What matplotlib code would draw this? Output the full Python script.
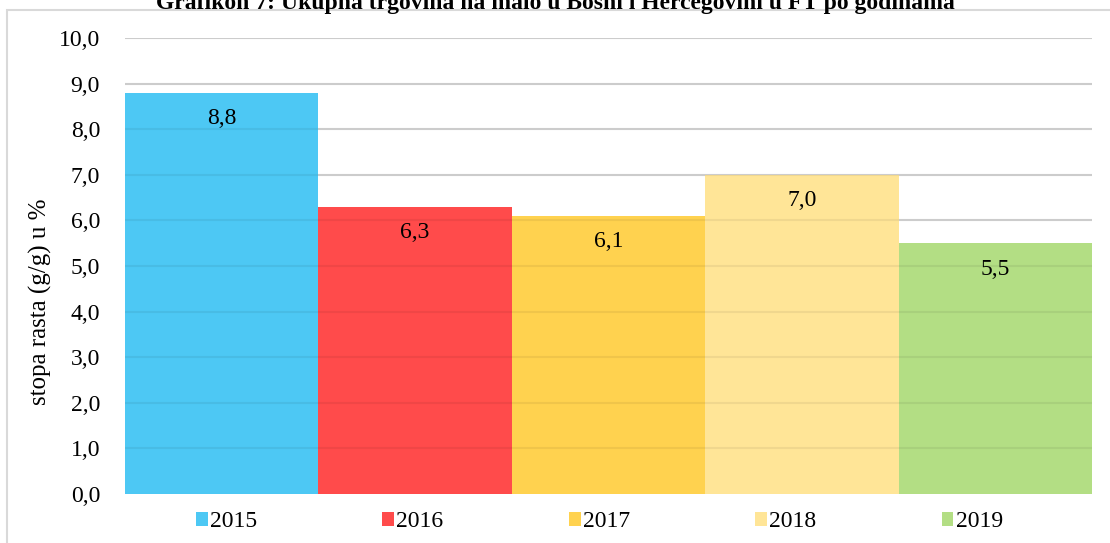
import matplotlib.pyplot as plt
from matplotlib.patches import Rectangle

plt.rcParams['font.family'] = ['Liberation Serif', 'DejaVu Serif']

years = ['2015', '2016', '2017', '2018', '2019']
growth = [8.8, 6.3, 6.1, 7.0, 5.5]
colors = ['#4DC8F4', '#FF4B4B', '#FFD24F', '#FFE597', '#B3DE84']
title = 'Grafikon 7: Ukupna trgovina na malo u Bosni i Hercegovini u FT po godinama'

fig = plt.figure(figsize=(11.1, 5.43), dpi=100)
ax = fig.add_axes([125 / 1110, 1 - 494 / 543, (1092 - 125) / 1110, (494 - 38) / 543])

x = range(len(years))
bars = ax.bar(x, growth, width=1.0, color=colors, label=years, zorder=1)
for bar, v in zip(bars, growth):
    ax.text(bar.get_x() + bar.get_width() / 2, v - 0.57, f'{v:.1f}'.replace('.', ','),
            ha='center', va='center', fontsize=17, zorder=3)

ax.set_xlim(-0.5, len(years) - 0.5)
ax.set_ylim(0, 10)
ax.set_yticks(range(0, 11))
ax.set_yticklabels([f'{t:.1f}'.replace('.', ',') for t in range(0, 11)], fontsize=17)
ax.set_xticks([])
ax.grid(axis='y', color='#D9D9D9', linewidth=1.5, zorder=0)
ax.set_axisbelow(True)
# faint gridlines showing through the bars
ax.hlines(range(1, 11), -0.5, len(years) - 0.5, color='black', alpha=0.06, linewidth=1.5, zorder=2)
ax.tick_params(axis='y', length=0, pad=18)
for s in ax.spines.values():
    s.set_visible(False)
ax.set_ylabel('stopa rasta (g/g) u %', fontsize=18)
ax.yaxis.set_label_coords((52 - 125) / 967, (494 - 302) / 456)

# chart frame
fig.patches.append(Rectangle((7 / 1110, -0.05), 1.2, 1 - 10 / 543 + 0.05, transform=fig.transFigure,
                             fill=False, edgecolor='#D9D9D9', linewidth=1.5))

fig.legend(handles=bars, labels=years, loc='center', bbox_to_anchor=(0.540, 0.039), ncol=5,
           frameon=False, fontsize=17, handlelength=0.5, handleheight=0.5, handletextpad=0.1,
           columnspacing=5.3)

fig.text(0.5, 1 - 3 / 543, title, ha='center', va='center', fontsize=17, fontweight='bold')

fig.savefig('out.png', dpi=100)
